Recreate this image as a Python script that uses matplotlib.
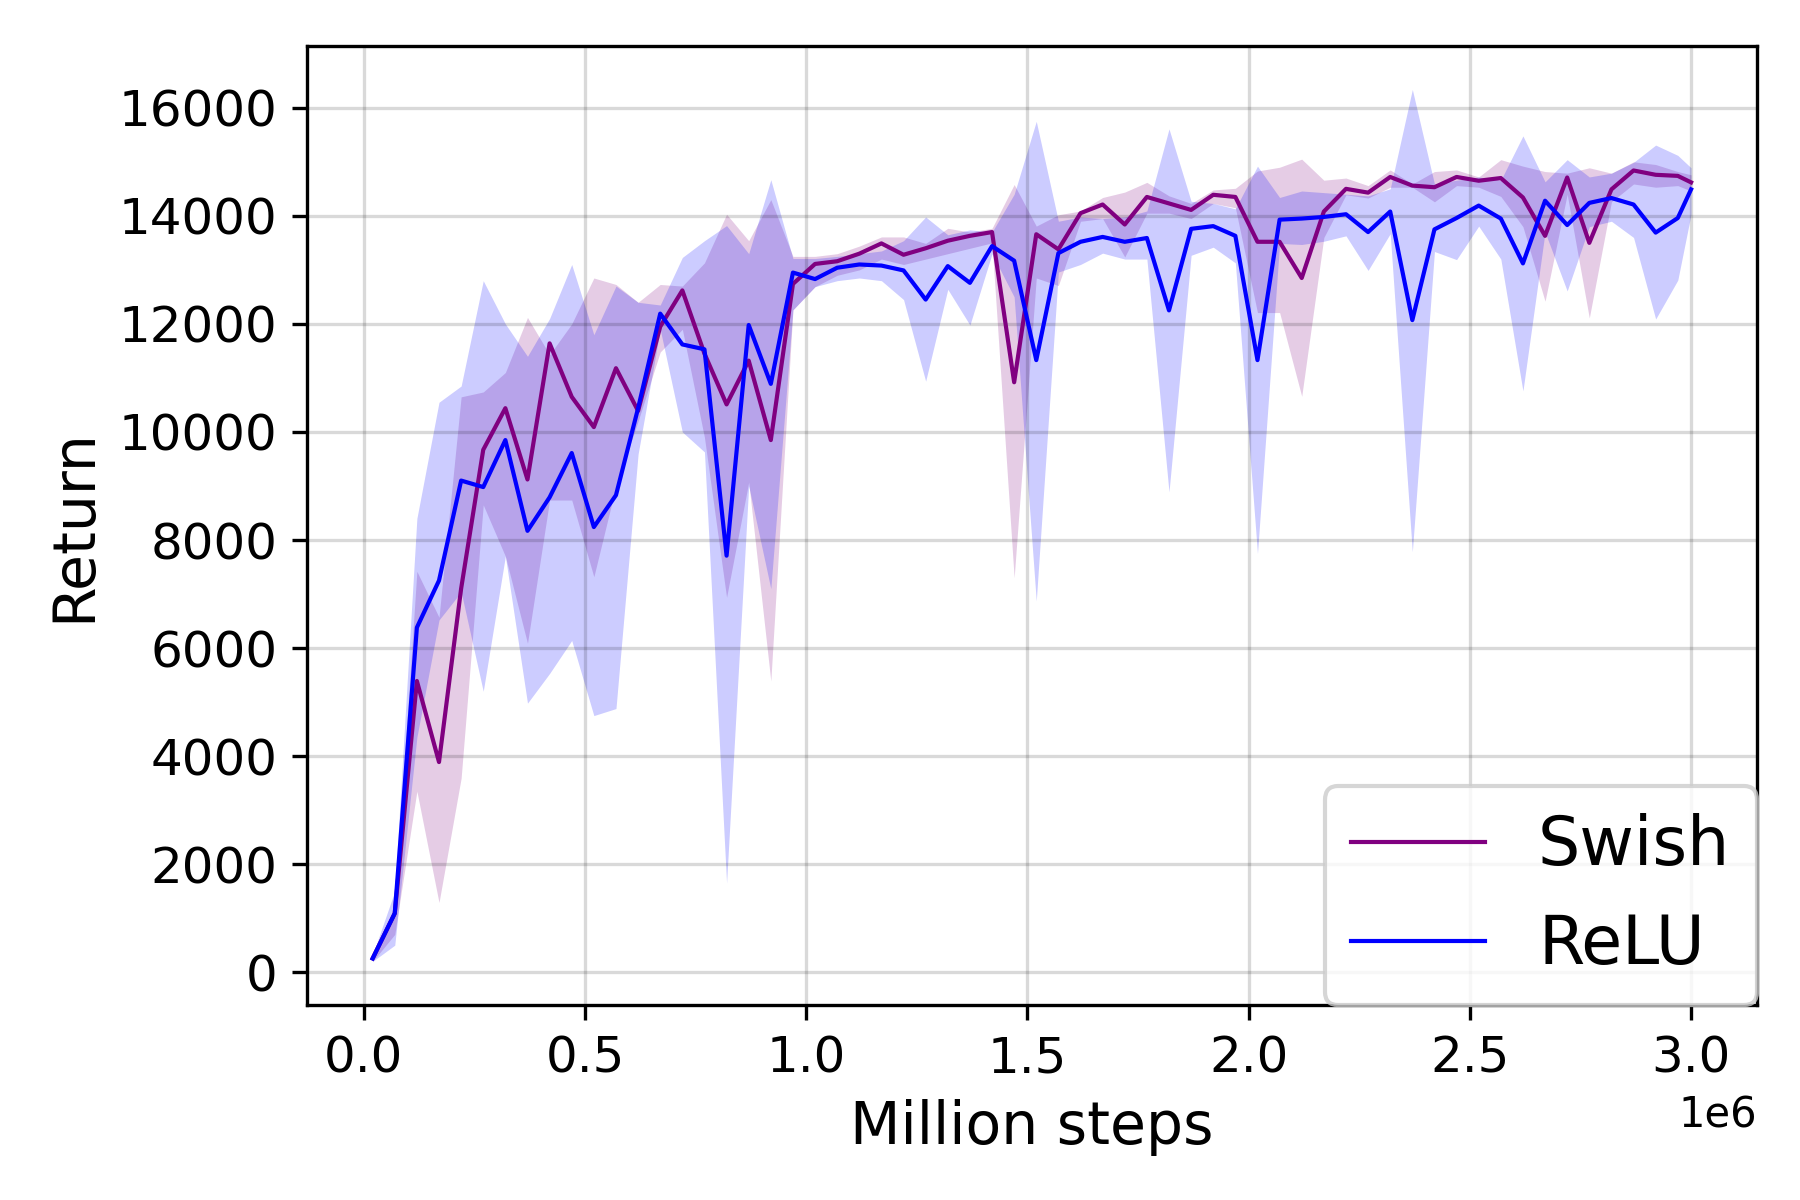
import matplotlib
matplotlib.use('Agg')
import numpy as np
import matplotlib.pyplot as plt

# evaluation steps
steps = [
    20000, 70000, 120000, 170000, 220000, 270000, 320000, 370000, 420000, 470000,
    520000, 570000, 620000, 670000, 720000, 770000, 820000, 870000, 920000, 970000,
    1020000, 1070000, 1120000, 1170000, 1220000, 1270000, 1320000, 1370000, 1420000, 1470000,
    1520000, 1570000, 1620000, 1670000, 1720000, 1770000, 1820000, 1870000, 1920000, 1970000,
    2020000, 2070000, 2120000, 2170000, 2220000, 2270000, 2320000, 2370000, 2420000, 2470000,
    2520000, 2570000, 2620000, 2670000, 2720000, 2770000, 2820000, 2870000, 2920000, 2970000,
    3000000,
]

swish_mean = [
    255, 1090, 5390, 3890, 7100, 9670, 10440, 9120, 11640, 10650,
    10090, 11180, 10390, 11950, 12620, 11450, 10510, 11320, 9850, 12740,
    13110, 13160, 13300, 13490, 13280, 13400, 13540, 13630, 13700, 10920,
    13660, 13380, 14050, 14210, 13840, 14350, 14230, 14110, 14390, 14350,
    13520, 13520, 12850, 14080, 14500, 14430, 14720, 14560, 14530, 14720,
    14650, 14700, 14340, 13630, 14710, 13500, 14490, 14840, 14760, 14740,
    14620,
]
swish_upper = [
    300, 1200, 7420, 6570, 10650, 10740, 11100, 12120, 11430, 12000,
    12850, 12730, 12400, 12730, 12700, 13130, 14030, 13540, 14300, 13250,
    13250, 13300, 13440, 13610, 13610, 13490, 13770, 13700, 13770, 14580,
    13810, 14020, 14090, 14340, 14440, 14620, 14370, 14230, 14480, 14510,
    14830, 14900, 15050, 14660, 14700, 14560, 14850, 14590, 14820, 14850,
    14720, 15040, 14920, 14820, 14790, 14890, 14790, 15000, 14950, 14820,
    14760,
]
swish_lower = [
    200, 700, 3350, 1290, 3590, 8650, 7700, 6090, 8740, 8740,
    7320, 9000, 10200, 11480, 11900, 9900, 6940, 9070, 5390, 12260,
    12690, 12900, 13000, 13200, 13100, 13200, 13300, 13400, 13500, 7300,
    12850, 12710, 13900, 13950, 13240, 14050, 14050, 13950, 14230, 14150,
    12210, 12210, 10660, 13600, 14390, 14330, 14530, 14530, 14260, 14560,
    14530, 14360, 13800, 12420, 14400, 12110, 14260, 14590, 14530, 14560,
    14460,
]

relu_mean = [
    255, 1090, 6380, 7250, 9100, 8980, 9850, 8170, 8790, 9610,
    8240, 8830, 10440, 12190, 11620, 11530, 7710, 11980, 10890, 12950,
    12830, 13040, 13100, 13080, 12990, 12450, 13070, 12760, 13440, 13170,
    11330, 13310, 13520, 13610, 13520, 13590, 12250, 13760, 13810, 13630,
    11330, 13930, 13950, 13980, 14030, 13700, 14080, 12070, 13750, 13960,
    14190, 13950, 13120, 14280, 13830, 14240, 14330, 14210, 13690, 13960,
    14490,
]
relu_upper = [
    320, 1500, 8400, 10550, 10850, 12800, 12000, 11400, 12100, 13100,
    11800, 12700, 12400, 12350, 13230, 13540, 13820, 13300, 14670, 13210,
    13210, 13250, 13300, 13350, 13540, 13980, 13650, 13740, 13700, 14400,
    15750, 13900, 13980, 13950, 13980, 14090, 15610, 14270, 14230, 14130,
    14920, 14340, 14460, 14430, 14400, 14370, 14500, 16340, 14590, 14660,
    14720, 14660, 15480, 14630, 15040, 14720, 14790, 14990, 15310, 15120,
    14890,
]
relu_lower = [
    200, 500, 4350, 6520, 7040, 5200, 7700, 4980, 5530, 6140,
    4750, 4880, 9590, 11900, 10000, 9630, 1650, 9000, 7100, 12260,
    12690, 12800, 12850, 12800, 12450, 10940, 12640, 11980, 13300, 12500,
    6870, 12960, 13100, 13310, 13200, 13200, 8890, 13270, 13420, 13130,
    7750, 13490, 13470, 13530, 13630, 12990, 13670, 7780, 13340, 13190,
    13810, 13200, 10760, 13700, 12610, 13800, 13900, 13600, 12090, 12810,
    14030,
]

plt.rcParams['font.size'] = 10

fig, ax = plt.subplots(figsize=(6, 4), dpi=300)
fig.subplots_adjust(left=0.1704, right=0.9761, top=0.9618, bottom=0.1625)

ax.plot(steps, swish_mean, color='purple', lw=1, label='Swish')
ax.fill_between(steps, swish_lower, swish_upper, color='purple', alpha=0.2, lw=0)
ax.plot(steps, relu_mean, color='blue', lw=1, label='ReLU')
ax.fill_between(steps, relu_lower, relu_upper, color='blue', alpha=0.2, lw=0)

ax.set_xlabel('Million steps', fontsize=14)
ax.set_ylabel('Return', fontsize=14)
ax.tick_params(labelsize=12)
ax.grid(True, color='k', alpha=0.15)
ax.legend(loc='lower right', fontsize=16, borderaxespad=0)

fig.savefig('out.png', dpi=300)
